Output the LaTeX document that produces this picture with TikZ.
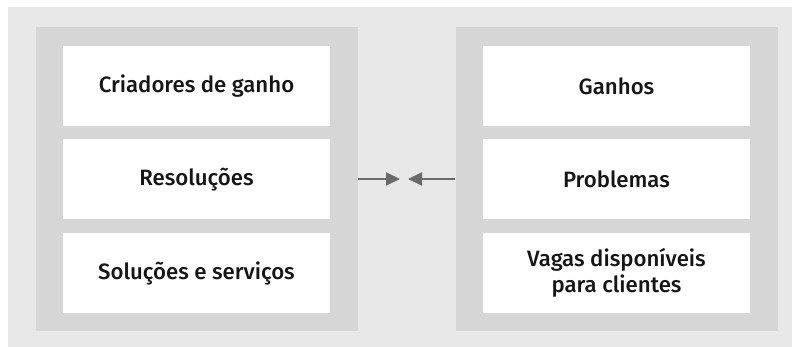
\documentclass[tikz,border=0pt]{standalone}
\usepackage{fontspec}
\setmainfont{Fira Sans}[UprightFont={* Medium}]
\usetikzlibrary{arrows.meta}
\definecolor{bgouter}{HTML}{E8E8E8}
\definecolor{bgpanel}{HTML}{D6D6D6}
\definecolor{arrowgray}{HTML}{6A6A6A}
\definecolor{ink}{HTML}{151515}
\tikzset{
  panel/.style={fill=bgpanel, draw=none, minimum width=322pt, minimum height=304pt, inner sep=0pt},
  card/.style={fill=white, draw=none, minimum width=267pt, minimum height=80pt, inner sep=0pt,
    text=ink, font=\fontsize{22.2}{26}\selectfont, align=center},
  flow/.style={draw=arrowgray, line width=2pt, -{Triangle[length=14pt,width=13pt]}}
}
\begin{document}
\begin{tikzpicture}[x=1pt,y=-1pt]
  \useasboundingbox (0,0) rectangle (793,347);
  \fill[bgouter] (8,7) rectangle (792,347);
  % two panels
  \node[panel] (left) at (197,179) {};
  \node[panel] (right) at (616.5,179) {};
  % cards, left column
  \node[card] (c1) at (196.5,86) {Criadores de ganho};
  \node[card] (c2) at (196.5,179.5) {Resoluções};
  \node[card] (c3) at (196.5,273) {Soluções e serviços};
  % cards, right column
  \node[card] (d1) at (616.5,86) {Ganhos};
  \node[card] (d2) at (616.5,179.5) {Problemas};
  \node[card] (d3) at (616.5,273) {Vagas disponíveis\\para clientes};
  % arrows between the panels
  \coordinate (tipL) at (400,179);
  \coordinate (tipR) at (408,179);
  \draw[flow] (left.east) -- (tipL);
  \draw[flow] (right.west) -- (tipR);
\end{tikzpicture}
\end{document}
